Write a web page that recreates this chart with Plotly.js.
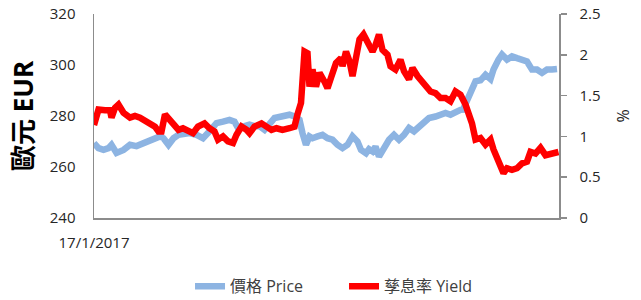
<!DOCTYPE html>
<html>
<head>
<meta charset="utf-8">
<script src="https://cdn.plot.ly/plotly-3.0.1.min.js"></script>
<style>
html,body{margin:0;padding:0;background:#fff;}
#chart{width:641px;height:300px;}
</style>
</head>
<body>
<div id="chart"></div>
<script>
// Day offsets from 17/1/2017 (sample positions) and values
const priceDays = [0,9,19,29,35,45,59,72,85,99,112,122,132,139,149,159,169,182,191,205,218,231,245,258,271,281,288,301,311,321,331,341,351,361,368,377,391,401,411,417,424,431,437,447,457,467,477,487,497,507,517,527,534,544,550,557,563,570,580,590,600,610,620,630,640,650,660,670,683,693,703,713,723,733,738,746,756,763,773,783,793,799,809,816,826,836,846,856,866,876,886,896,906,916,926];
const price = [269.4,267.4,266.7,267.4,268.7,265.5,266.7,268.7,268.2,269.4,270.7,271.3,272.0,271.3,268.7,271.3,272.6,273.0,273.3,272.6,271.3,274.0,277.2,277.8,278.5,277.8,275.3,276.0,276.6,276.0,276.0,274.6,277.2,279.2,279.5,279.8,280.5,279.8,278.5,273.3,268.7,272.0,271.3,272.0,272.6,271.3,270.7,268.7,267.4,268.7,272.0,270.0,266.7,265.4,267.0,266.1,268.0,264.1,267.4,270.7,272.6,270.7,272.6,275.3,274.0,275.9,277.2,279.2,279.8,280.5,281.2,280.5,281.8,282.4,282.5,285.7,289.6,293.6,294.0,296.2,294.5,298.2,302.1,304.1,302.1,303.4,302.7,302.1,301.4,298.2,298.2,296.9,298.2,298.2,298.4];

const yieldDays = [0,9,22,32,35,42,49,59,72,82,92,99,112,122,129,135,142,152,159,169,178,188,198,208,221,231,241,248,258,268,278,285,295,305,311,321,335,345,355,365,377,391,401,407,414,421,427,431,437,444,451,461,467,474,484,494,497,504,511,517,524,531,539,544,550,557,563,570,577,587,593,603,613,620,630,637,647,657,667,673,683,693,703,713,723,733,743,749,756,763,773,783,793,799,806,813,819,826,836,846,856,866,873,883,893,903,913,923,929];
const yieldPct = [1.14,1.33,1.32,1.32,1.23,1.35,1.39,1.29,1.23,1.25,1.23,1.20,1.16,1.12,1.06,1.06,1.27,1.20,1.14,1.08,1.10,1.08,1.04,1.12,1.16,1.10,1.06,0.96,1.00,0.94,0.92,1.02,1.12,1.08,1.04,1.12,1.16,1.12,1.08,1.10,1.08,1.10,1.12,1.27,1.41,2.04,2.02,1.61,1.82,1.61,1.78,1.67,1.59,1.72,1.90,1.96,1.86,2.04,1.92,1.74,1.98,2.19,2.25,2.19,2.10,2.04,2.12,2.25,2.06,2.00,1.86,1.82,1.94,1.80,1.70,1.84,1.74,1.67,1.61,1.55,1.53,1.47,1.47,1.43,1.55,1.51,1.39,1.29,1.16,0.96,0.98,0.90,0.96,0.84,0.75,0.63,0.55,0.61,0.59,0.61,0.67,0.69,0.81,0.79,0.86,0.77,0.79,0.79,0.81];

const xTickVals = [0];
const xTickText = ['17/1/2017'];
const leftTicks = [240, 260, 280, 300, 320];
const rightTicks = [0, 0.5, 1, 1.5, 2, 2.5];
const rightTickText = ['0', '0.5', '1', '1.5', '2', '2.5'];

const FONT = '"Open Sans", "Noto Sans CJK TC", sans-serif';
const AXIS_GREY = '#8c8c8c';

const traces = [
  {
    x: priceDays, y: price, name: '價格 Price', type: 'scatter', mode: 'lines',
    line: {color: '#8db4e2', width: 6.5}, yaxis: 'y'
  },
  {
    x: yieldDays, y: yieldPct, name: '孳息率 Yield', type: 'scatter', mode: 'lines',
    line: {color: '#ff0000', width: 6.5}, yaxis: 'y2'
  }
];

const layout = {
  width: 641, height: 300,
  margin: {l: 94, r: 82, t: 14, b: 82, pad: 0, autoexpand: false},
  paper_bgcolor: '#ffffff', plot_bgcolor: '#ffffff',
  font: {family: FONT, size: 15, color: '#262626'},
  showlegend: true,
  legend: {
    orientation: 'h', x: 0.2065, xanchor: 'left', y: -0.335, yanchor: 'middle',
    font: {family: FONT, size: 16, color: '#404040'}, traceorder: 'normal',
    entrywidth: 109
  },
  xaxis: {
    range: [0, 930], showgrid: false, zeroline: false, automargin: false,
    showline: true, linecolor: AXIS_GREY, linewidth: 1.5,
    tickmode: 'array', tickvals: xTickVals, ticktext: xTickText,
    ticks: 'outside', ticklen: 10, tickcolor: 'rgba(0,0,0,0)',
    tickfont: {family: FONT, size: 15, color: '#262626'}
  },
  yaxis: {
    range: [240, 320], showgrid: false, zeroline: false, automargin: false,
    showline: true, linecolor: AXIS_GREY, linewidth: 1.5,
    tickmode: 'array', tickvals: leftTicks,
    ticks: 'outside', ticklen: 14, tickcolor: 'rgba(0,0,0,0)',
    tickfont: {family: FONT, size: 15, color: '#262626'},
    title: {text: '歐元 EUR', font: {family: FONT, size: 26, color: '#000000', weight: 'bold'}, standoff: 8}
  },
  yaxis2: {
    range: [0, 2.5], overlaying: 'y', side: 'right', showgrid: false, zeroline: false, automargin: false,
    showline: true, linecolor: AXIS_GREY, linewidth: 1.5,
    tickmode: 'array', tickvals: rightTicks, ticktext: rightTickText,
    ticks: 'outside', ticklen: 6, tickwidth: 1.5, tickcolor: AXIS_GREY,
    ticklabelstandoff: 10,
    tickfont: {family: FONT, size: 15, color: '#262626'},
    title: {text: '%', font: {family: FONT, size: 16, color: '#262626'}, standoff: 18}
  }
};

Plotly.newPlot('chart', traces, layout, {displayModeBar: false, staticPlot: true});
</script>
</body>
</html>
